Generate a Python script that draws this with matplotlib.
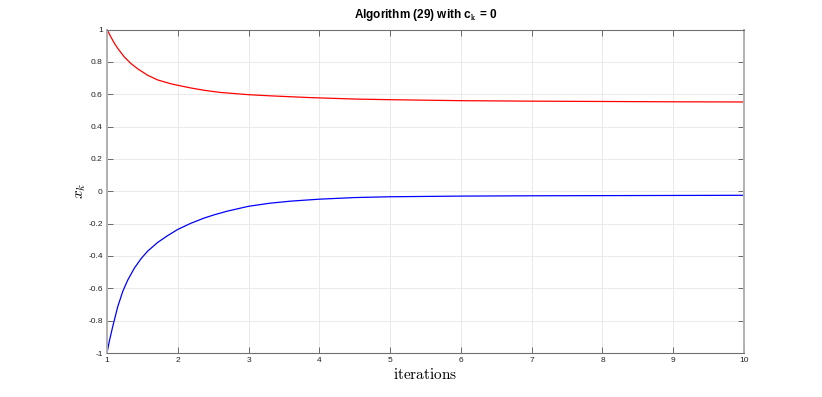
import matplotlib
matplotlib.use("Agg")
import matplotlib.pyplot as plt

plt.rcParams['mathtext.fontset'] = 'cm'

# Values
red_x = [1.0, 1.057, 1.104, 1.151, 1.245, 1.34, 1.434, 1.575, 1.717, 1.906, 2.0, 2.19, 2.377,
         2.6, 3.0, 3.3, 3.87, 4.5, 5.0, 6.0, 7.0, 8.0, 9.0, 10.0]
red_y = [1.0, 0.952, 0.915, 0.884, 0.83, 0.789, 0.757, 0.717, 0.688, 0.664, 0.655, 0.638, 0.624,
         0.611, 0.597, 0.59, 0.579, 0.57, 0.566, 0.56, 0.557, 0.555, 0.553, 0.552]

blue_x = [1.0, 1.033, 1.08, 1.151, 1.222, 1.292, 1.387, 1.481, 1.575, 1.717, 1.858, 2.0, 2.19,
          2.377, 2.52, 2.7, 3.0, 3.3, 3.6, 4.0, 4.5, 5.0, 6.0, 7.0, 8.0, 9.0, 10.0]
blue_y = [-1.0, -0.927, -0.838, -0.715, -0.62, -0.55, -0.475, -0.417, -0.37, -0.316, -0.274,
          -0.236, -0.197, -0.165, -0.145, -0.123, -0.093, -0.074, -0.061, -0.049, -0.039, -0.034,
          -0.030, -0.028, -0.027, -0.026, -0.025]

xticks = list(range(1, 11))
yticks = [-1, -0.8, -0.6, -0.4, -0.2, 0, 0.2, 0.4, 0.6, 0.8, 1]
ytick_labels = ['-1', '-0.8', '-0.6', '-0.4', '-0.2', '0', '0.2', '0.4', '0.6', '0.8', '1']

fig = plt.figure(figsize=(8.22, 3.97), dpi=100)
ax = fig.add_axes([107/822, 1-353/397, (744-107)/822, (353-29.5)/397])

ax.plot(red_x, red_y, color='#ff0000', lw=0.9)
ax.plot(blue_x, blue_y, color='#0000ff', lw=0.9)

ax.set_xlim(1, 10)
ax.set_ylim(-1, 1)
ax.set_xticks(xticks)
ax.set_xticklabels([str(t) for t in xticks])
ax.set_yticks(yticks)
ax.set_yticklabels(ytick_labels)

ax.grid(True, color='#e6e6e6', lw=0.6)
ax.set_axisbelow(True)
ax.tick_params(direction='in', length=4, width=0.6, colors='#555555', labelsize=6,
               top=True, right=True, pad=3)
for t in ax.get_xticklabels() + ax.get_yticklabels():
    t.set_color('#222222')
    t.set_family('Liberation Sans')
for s in ['top', 'bottom']:
    ax.spines[s].set_color('#707070')
    ax.spines[s].set_linewidth(0.8)
for s in ['left', 'right']:
    ax.spines[s].set_color('#b0b0b0')
    ax.spines[s].set_linewidth(1.4)

ax.set_title(r'Algorithm (29) with c$_{\mathbf{k}}$ = 0', fontsize=8.5, fontweight='bold',
             family='Liberation Sans', pad=8)
ax.set_xlabel(r'$\mathrm{iterations}$', fontsize=11, labelpad=2)
ax.set_ylabel(r'$x_k$', fontsize=11, labelpad=0)

fig.savefig('out.png', dpi=100)
